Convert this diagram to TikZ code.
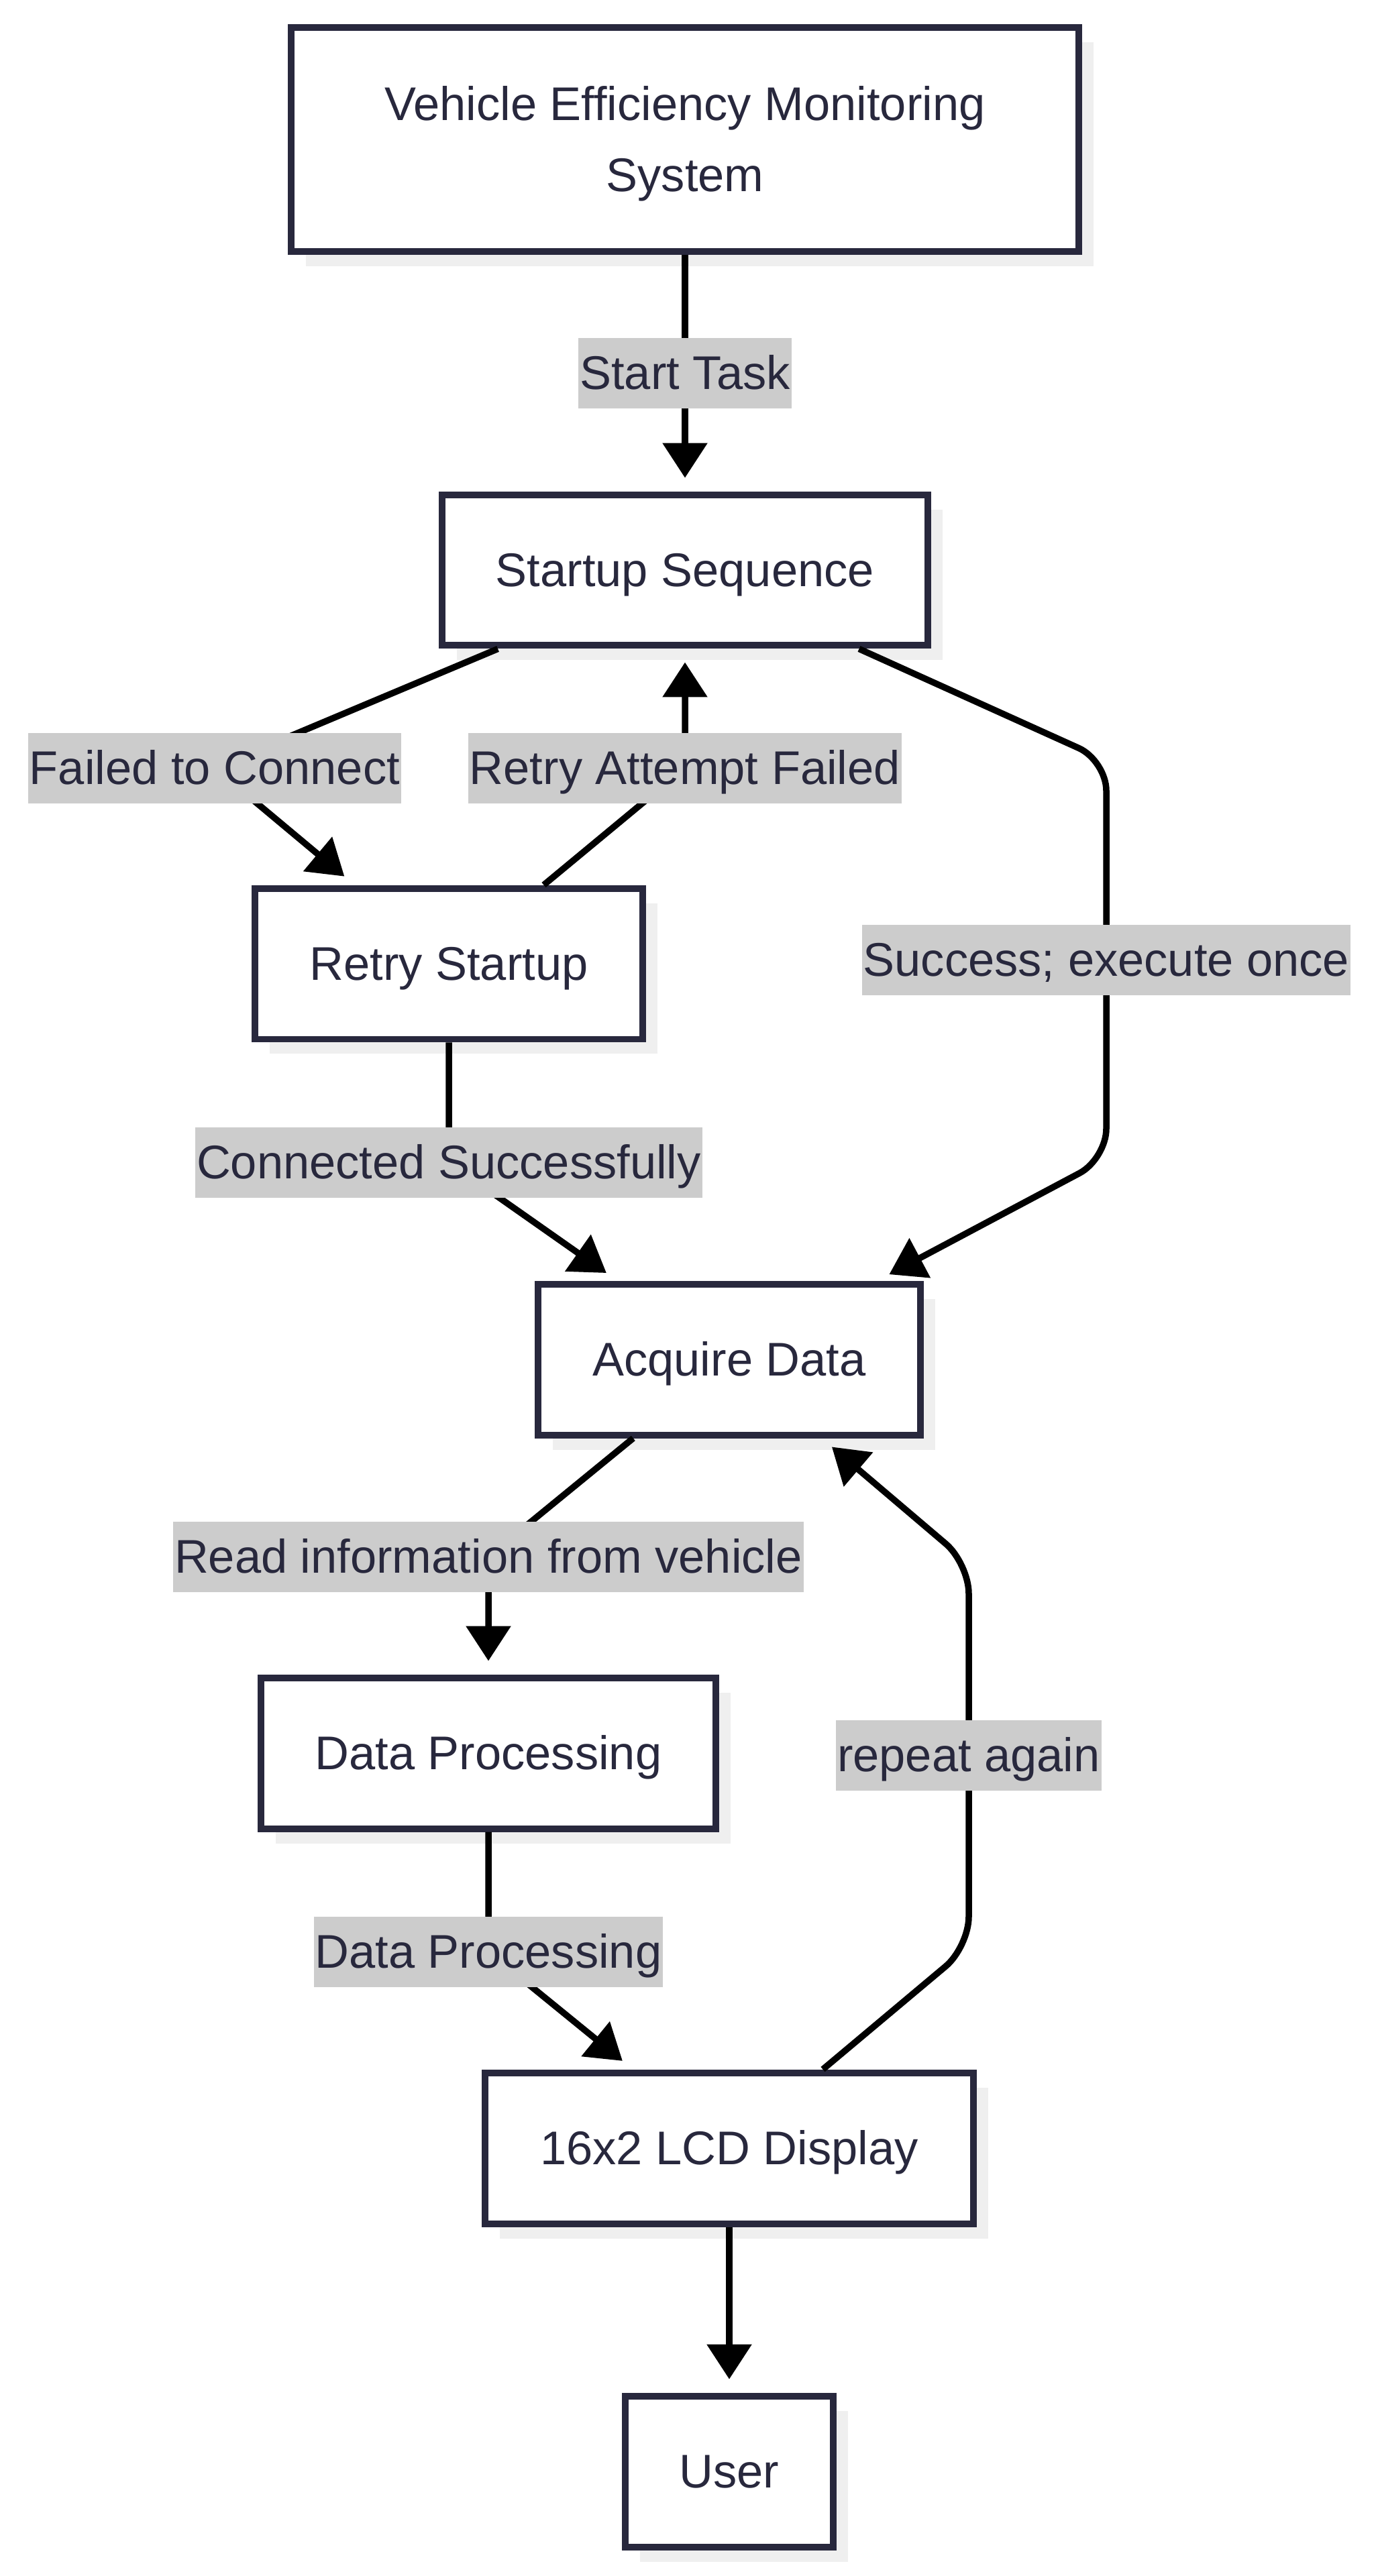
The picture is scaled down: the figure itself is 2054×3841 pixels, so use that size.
\documentclass[tikz,border=0pt]{standalone}
\usepackage{fontspec}
\setmainfont{Liberation Sans}
\usetikzlibrary{arrows.meta,shadows}
\definecolor{ink}{HTML}{28283D}
\definecolor{labelgray}{HTML}{CCCCCC}
\definecolor{shadowgray}{HTML}{EFEFEF}
\begin{document}
\begin{tikzpicture}[x=0.02cm,y=-0.02cm,
  every node/.style={font=\fontsize{40.1}{60.3}\selectfont, text=ink},
  box/.style={rectangle, draw=ink, line width=0.2cm, fill=white, inner sep=0pt,
    minimum height=4.5cm, sharp corners,
    drop shadow={shadow xshift=0.44cm, shadow yshift=-0.44cm, fill=shadowgray, opacity=1}},
  onebox/.style={box, text height=36.3pt, text depth=8.5pt},
  lab/.style={rectangle, sharp corners, fill=labelgray, inner xsep=0.04cm, inner ysep=0pt,
    minimum height=2.1cm, text height=36.3pt, text depth=8.5pt},
  edge/.style={draw=black, line width=0.19cm, rounded corners=0.9cm,
    shorten >=0.4cm, -{Triangle[length=1.04cm,width=1.3cm]}}
]
\useasboundingbox (0,0) rectangle (2054,3841);

% nodes
\node[box, align=center, minimum width=23.48cm, minimum height=6.7cm] (top) at (1021,208)
  {\rule{0pt}{36.3pt}Vehicle Efficiency Monitoring\\System\rule[-8.5pt]{0pt}{8.5pt}};
\node[onebox, minimum width=14.48cm] (startup) at (1021,850) {Startup Sequence};
\node[onebox, minimum width=11.56cm] (retry) at (669,1437) {Retry Startup};
\node[onebox, minimum width=11.42cm] (acquire) at (1087,2027) {Acquire Data};
\node[onebox, minimum width=13.56cm] (dataproc) at (728,2614) {Data Processing};
\node[onebox, minimum width=14.56cm] (lcd) at (1087,3203) {16x2 LCD Display};
\node[onebox, minimum width=6.22cm] (user) at (1087,3685) {User};

% bend points
\coordinate (c2) at (320,1145);
\coordinate (c3) at (1021,1145);
\coordinate (c4a) at (1649,1134);
\coordinate (c4b) at (1649,1728);
\coordinate (c5) at (669,1733);
\coordinate (c6) at (728,2321);
\coordinate (c7) at (728,2910);
\coordinate (c8a) at (1444,2903);
\coordinate (c8b) at (1444,2331);

% connectors
\draw[edge] (top) -- node[lab] (l1) {Start Task} (startup);
\draw[edge] (startup) -- (c2) node[lab] (l2) {Failed to Connect} -- (retry);
\draw[edge] (retry) -- (c3) node[lab] (l3) {Retry Attempt Failed} -- (startup);
\draw[edge] (startup) -- (c4a) -- node[lab] (l4) {Success; execute once} (c4b) -- (acquire);
\draw[edge] (retry) -- (c5) node[lab] (l5) {Connected Successfully} -- (acquire);
\draw[edge] (acquire) -- (c6) node[lab] (l6) {Read information from vehicle} -- (dataproc);
\draw[edge] (dataproc) -- (c7) node[lab] (l7) {Data Processing} -- (lcd);
\draw[edge] (lcd) -- (c8a) -- node[lab] (l8) {repeat again} (c8b) -- (acquire);
\draw[edge] (lcd) -- (user);
\end{tikzpicture}
\end{document}
